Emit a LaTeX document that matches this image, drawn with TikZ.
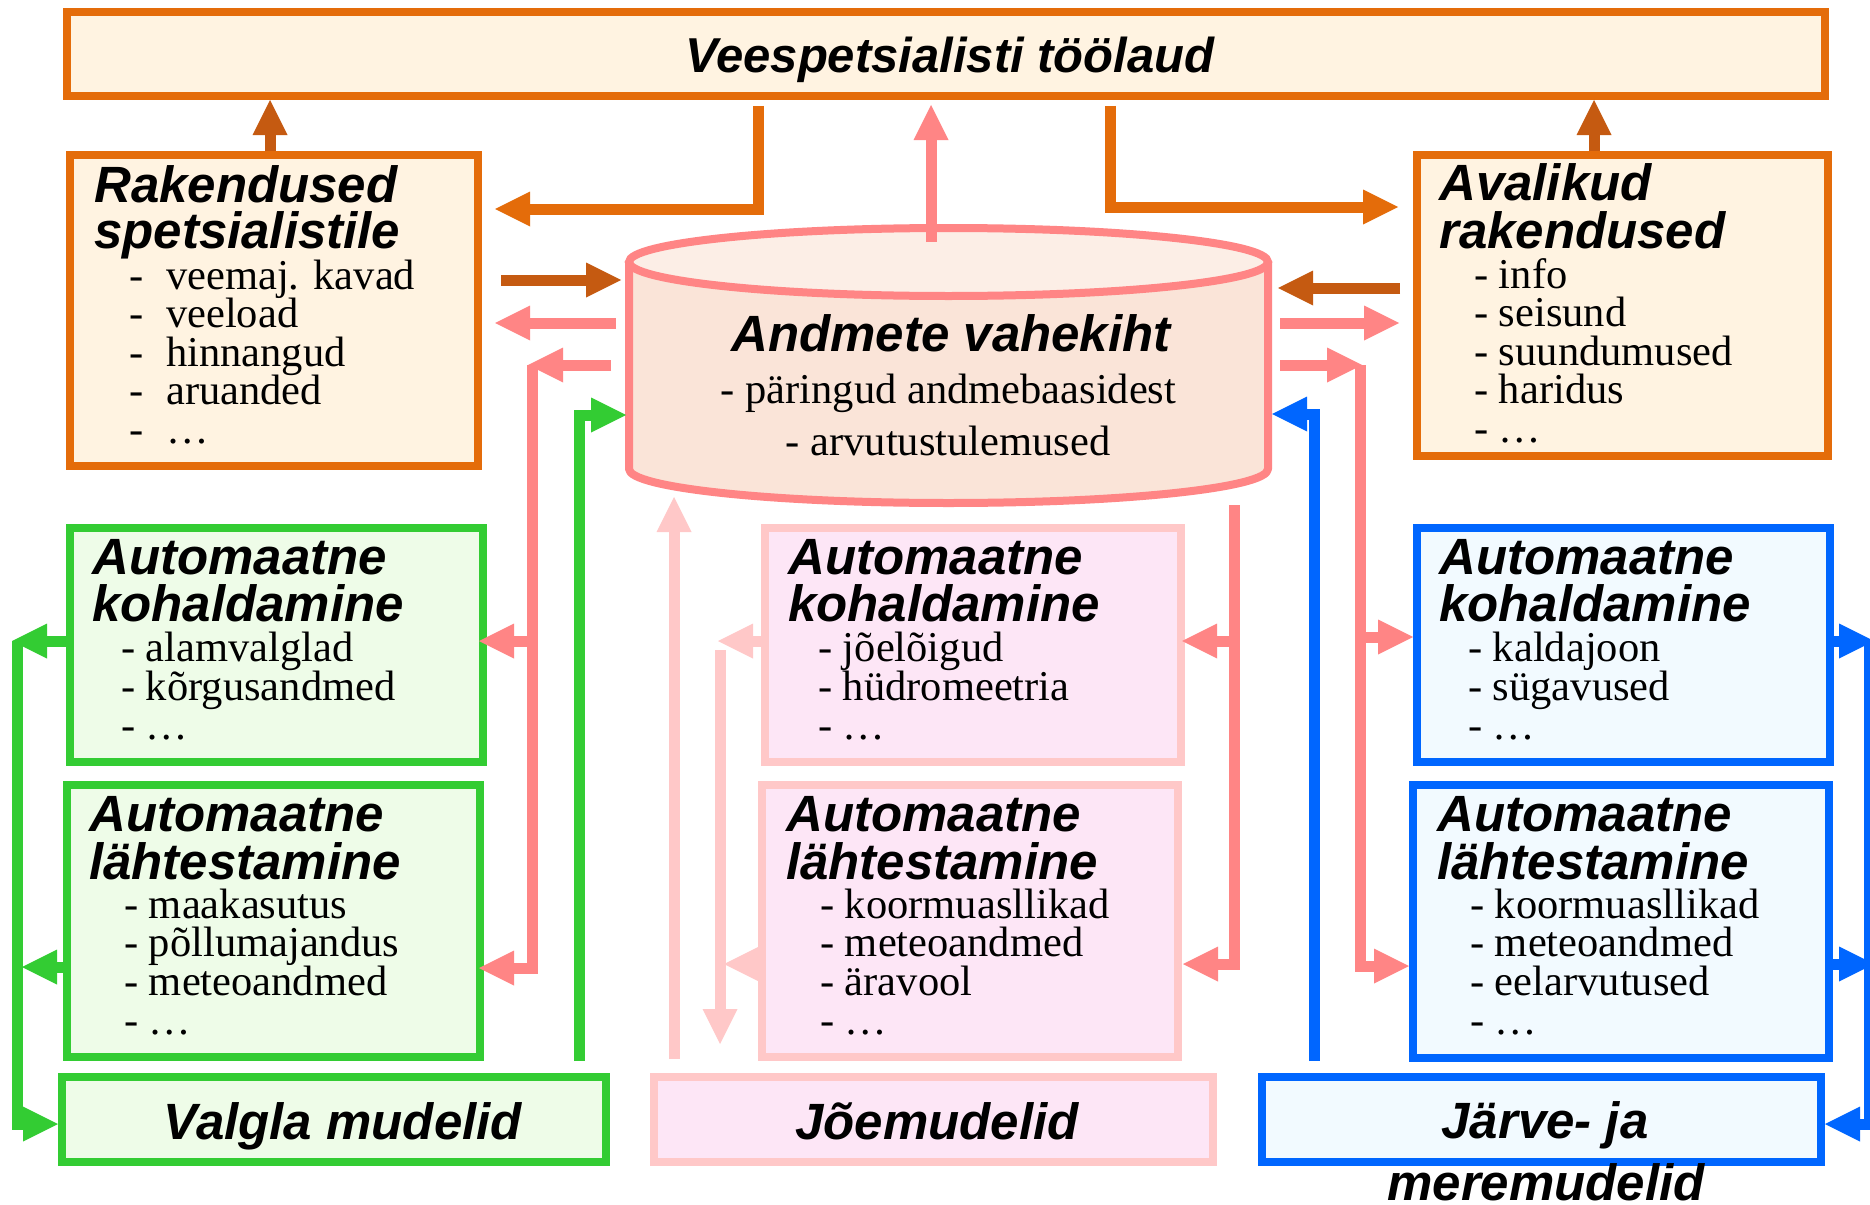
\documentclass[tikz,border=0pt]{standalone}
\usepackage{fontspec}
\setmainfont{Liberation Serif}
\newfontfamily\hsans{Liberation Sans}
\usetikzlibrary{arrows.meta}

\definecolor{orng}{HTML}{E46C0A}
\definecolor{dorng}{HTML}{C55A11}
\definecolor{cream}{HTML}{FFF3E1}
\definecolor{coral}{HTML}{FF8585}
\definecolor{lpink}{HTML}{FFC8C8}
\definecolor{pfill}{HTML}{FDE6F6}
\definecolor{grn}{HTML}{33CC33}
\definecolor{gfill}{HTML}{EEFCE8}
\definecolor{blu}{HTML}{0066FF}
\definecolor{bfill}{HTML}{F2FAFF}
\definecolor{cyltop}{HTML}{FCEEE6}
\definecolor{cylbody}{HTML}{FAE4D8}

\newcommand\hd{\hsans\bfseries\itshape\fontsize{51}{46}\selectfont}
\newcommand\tx{\rmfamily\upshape\mdseries\fontsize{42.5}{38.5}\selectfont}
\newcommand\BL[1]{\baselineskip=#1pt\relax}
\newcommand\HL[1]{\hbox{\hd #1}}
\newcommand\IL[2]{\hbox{\hskip#1pt\tx #2}}
\newcommand\VT[1]{\vtop{\lineskiplimit=-1000pt\lineskip=0pt #1}}
\newcommand\TB{\makebox[37pt][l]{-}}

\tikzset{
  box/.style={draw, line width=8pt, inner sep=0pt, outer sep=4pt},
  obox/.style={box, draw=orng, fill=cream},
  gbox/.style={box, draw=grn, fill=gfill},
  pbox/.style={box, draw=lpink, fill=pfill},
  bbox/.style={box, draw=blu, fill=bfill},
  arr/.style={line width=11pt, -{Triangle[length=35pt,width=35pt,line width=0pt]}},
  ln/.style={line width=11pt},
  txt/.style={inner sep=0pt, anchor=base west},
  ctxt/.style={inner sep=0pt, anchor=base},
}

\begin{document}
\begin{tikzpicture}[x=1pt,y=-1pt]
\useasboundingbox (0,0) rectangle (1870,1204);
\fill[white] (0,0) rectangle (1870,1204);
\clip (0,0) rectangle (1870,1204);

% ---------- boxes ----------
\node[obox, minimum width=1758pt, minimum height=84pt] (top) at (946,54) {};
\node[obox, minimum width=408pt, minimum height=311pt] (rak) at (274,310.5) {};
\node[obox, minimum width=411pt, minimum height=301pt] (aval) at (1622.5,305.5) {};
\node[gbox, minimum width=413pt, minimum height=234pt] (gk) at (276.5,645) {};
\node[gbox, minimum width=413pt, minimum height=272pt] (gl) at (273.5,921) {};
\node[gbox, minimum width=544pt, minimum height=85pt] (valgla) at (334,1119.5) {};
\node[pbox, minimum width=416pt, minimum height=234pt] (pk) at (973,645) {};
\node[pbox, minimum width=416pt, minimum height=272pt] (pl) at (970,921) {};
\node[pbox, minimum width=559pt, minimum height=85pt] (joe) at (933.5,1119.5) {};
\node[bbox, minimum width=413pt, minimum height=234pt] (bk) at (1623.5,645) {};
\node[bbox, minimum width=416pt, minimum height=273pt] (bl) at (1621,921.5) {};
\node[bbox, minimum width=559pt, minimum height=85pt] (jarve) at (1541.5,1119.5) {};

% ---------- cylinder ----------
\fill[cylbody] (629,262) -- (629,469) arc[start angle=180,end angle=360,x radius=319.5pt,y radius=34pt] -- (1268,262) -- cycle;
\fill[cyltop] (948.5,262) ellipse[x radius=319.5pt, y radius=34pt];
\draw[coral, line width=8pt, line join=round] (629,262) -- (629,469) arc[start angle=180,end angle=360,x radius=319.5pt,y radius=34pt] -- (1268,262);
\draw[coral, line width=8pt] (948.5,262) ellipse[x radius=319.5pt, y radius=34pt];
\node[inner sep=0pt, minimum width=647pt, minimum height=283pt] (cyl) at (948.5,365.5) {};

% ---------- connector end points ----------
\coordinate (c2s) at (758,106);   \coordinate (c2e) at (495,209);
\coordinate (c3s) at (931,242);   \coordinate (c3e) at (931,105);
\coordinate (c4s) at (1110,106);  \coordinate (c4e) at (1398,207);
\coordinate (c6s) at (501,280);   \coordinate (c6e) at (621,280);
\coordinate (c7s) at (616,323);   \coordinate (c7e) at (495,323);
\coordinate (c8s) at (611,365);   \coordinate (c8e) at (528,365);
\coordinate (c8v) at (532,365);
\coordinate (c9s) at (579,1061);  \coordinate (c9e) at (626,415);
\coordinate (c10s) at (1400,288); \coordinate (c10e) at (1278,288);
\coordinate (c11s) at (1280,323); \coordinate (c11e) at (1399,323);
\coordinate (c12s) at (1280,365); \coordinate (c12e) at (1362,365);
\coordinate (c12v) at (1360,365);
\coordinate (c13s) at (1314,1061); \coordinate (c13e) at (1272,414);
\coordinate (c14s) at (1234,505);
\coordinate (c15s) at (674,1059); \coordinate (c15e) at (674,497);
\coordinate (c16a) at (718,641);  \coordinate (c16b) at (724,964);
\coordinate (c16s) at (720,650);  \coordinate (c16e) at (720,1044);
\coordinate (c17a) at (12,641);   \coordinate (c17b) at (22,967);
\coordinate (c17v) at (17,641);
\coordinate (c18a) at (1874,641); \coordinate (c18b) at (1874,964);
\coordinate (c18v) at (1869,641);

% ---------- connectors ----------
\draw[arr, dorng] (rak.north -| 270,0) -- (top.south -| 270,0);
\draw[arr, orng] (c2s) |- (c2e);
\draw[arr, coral] (c3s) -- (c3e);
\draw[arr, orng] (c4s) |- (c4e);
\draw[arr, dorng] (aval.north -| 1594,0) -- (top.south -| 1594,0);

\draw[arr, dorng] (c6s) -- (c6e);
\draw[arr, coral] (c7s) -- (c7e);
\draw[arr, coral] (c8s) -- (c8e);
\draw[arr, coral] (c8v) -- (c8v |- 0,968) -- (479,968);
\draw[arr, coral] (c8v |- 0,641) -- (479,641);
\draw[arr, grn] (c9s) |- (c9e);

\draw[arr, dorng] (c10s) -- (c10e);
\draw[arr, coral] (c11s) -- (c11e);
\draw[arr, coral] (c12s) -- (c12e);
\draw[arr, coral] (c12v) -- (c12v |- 0,966) -- (bl.west |- 0,966);
\draw[arr, coral] (c12v |- 0,637) -- (bk.west |- 0,637);
\draw[arr, blu] (c13s) |- (c13e);

\draw[arr, coral] (c14s) -- (c14s |- 0,964) -- (1183,964);
\draw[arr, coral] (c14s |- 0,641) -- (1182,641);

\draw[arr, lpink] (c15s) -- (c15e);
\draw[arr, lpink] (pk.west |- 0,641) -- (c16a);
\draw[arr, lpink] (pl.west |- 0,964) -- (c16b);
\draw[arr, lpink] (c16s) -- (c16e);

\draw[arr, grn] (gk.west |- 0,641) -- (c17a);
\draw[arr, grn] (gl.west |- 0,967) -- (c17b);
\draw[arr, grn] (c17v) -- (c17v |- 0,1124) -- (valgla.west |- 0,1124);

\draw[arr, blu] (bk.east |- 0,641) -- (c18a);
\draw[arr, blu] (bl.east |- 0,964) -- (c18b);
\draw[arr, blu] (c18v) -- (c18v |- 0,1124) -- (jarve.east |- 0,1124);

% ---------- texts ----------
\node[ctxt, font=\hd\fontsize{49}{49}\selectfont] (title) at (950,73) {Veespetsialisti töölaud};

\node[txt] (rakT) at (94,202) {\VT{\BL{46}\HL{Rakendused}\HL{spetsialistile}%
 \BL{41}\IL{35}{\TB veemaj. kavad}\BL{38.5}\IL{35}{\TB veeload}\IL{35}{\TB hinnangud}%
 \IL{35}{\TB aruanded}\IL{35}{\TB …}}};

\node[txt] (avalT) at (1439,200) {\VT{\BL{48}\HL{Avalikud}\HL{rakendused}%
 \BL{40}\IL{35}{- info}\BL{38.5}\IL{35}{- seisund}\IL{35}{- suundumused}%
 \IL{35}{- haridus}\IL{35}{- …}}};

\node[ctxt, font=\hd] (cylT) at (951,351) {Andmete vahekiht};
\node[ctxt, font=\tx] (cylA) at (948.5,403) {- päringud andmebaasidest};
\node[ctxt, font=\tx] (cylB) at (948,455) {- arvutustulemused};

\node[txt] (gkT) at (92,574) {\VT{\BL{47}\HL{Automaatne}\HL{kohaldamine}%
 \BL{40}\IL{29}{- alamvalglad}\BL{39}\IL{29}{- kõrgusandmed}\IL{29}{- …}}};
\node[txt] (glT) at (89,831) {\VT{\BL{48}\HL{Automaatne}\HL{lähtestamine}%
 \BL{39}\IL{35}{- maakasutus}\BL{38.7}\IL{35}{- põllumajandus}\IL{35}{- meteoandmed}\IL{35}{- …}}};

\node[txt] (pkT) at (788,574) {\VT{\BL{47}\HL{Automaatne}\HL{kohaldamine}%
 \BL{40}\IL{30}{- jõelõigud}\BL{39}\IL{30}{- hüdromeetria}\IL{30}{- …}}};
\node[txt] (plT) at (786,831) {\VT{\BL{48}\HL{Automaatne}\HL{lähtestamine}%
 \BL{39}\IL{34}{- koormuasllikad}\BL{38.7}\IL{34}{- meteoandmed}\IL{34}{- äravool}\IL{34}{- …}}};

\node[txt] (bkT) at (1439,574) {\VT{\BL{47}\HL{Automaatne}\HL{kohaldamine}%
 \BL{40}\IL{29}{- kaldajoon}\BL{39}\IL{29}{- sügavused}\IL{29}{- …}}};
\node[txt] (blT) at (1437,831) {\VT{\BL{48}\HL{Automaatne}\HL{lähtestamine}%
 \BL{39}\IL{33}{- koormuasllikad}\BL{38.7}\IL{33}{- meteoandmed}\IL{33}{- eelarvutused}\IL{33}{- …}}};

\node[ctxt, font=\hd] (valglaT) at (343,1139) {Valgla mudelid};
\node[ctxt, font=\hd] (joeT) at (937,1139) {Jõemudelid};
\node[ctxt, font=\hd] (jarveT) at (1545,1138) {Järve- ja};
\node[ctxt, font=\hd] (mereT) at (1546,1200) {meremudelid};
\end{tikzpicture}
\end{document}
